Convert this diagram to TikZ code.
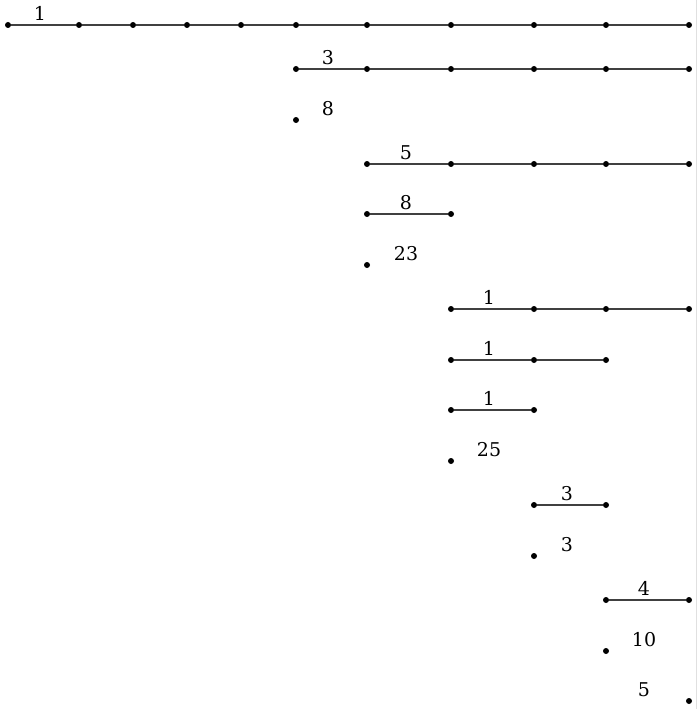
\documentclass[tikz,border=0pt]{standalone}
\usepackage{fontspec}
\setmainfont{DejaVu Serif}
\usetikzlibrary{positioning}
\tikzset{dot/.style={circle,fill=black,inner sep=0pt,minimum size=6pt},
  seg/.style={draw=black!75,line width=1.3pt},
  lbl/.style={font=\fontsize{19}{19}\selectfont,inner sep=0pt}}

\begin{document}
\begin{tikzpicture}[x=1pt,y=-1pt]
	\useasboundingbox (0,0) rectangle (697,709);
	\draw[black!12,line width=1pt] (696,0) -- (696,709);
	% rows: name / y / first column / last column / label / label x
	\foreach \row/\y/\a/\b/\txt/\lx in {1/25/0/10/1/40, 2/69/5/10/3/328, 3/120/5/5/8/328,
	    4/164/6/10/5/406, 5/214/6/7/8/406, 6/265/6/6/23/406,
	    7/309/7/10/1/489, 8/360/7/9/1/489, 9/410/7/8/1/489, 10/461/7/7/25/489,
	    11/505/8/9/3/567, 12/556/8/8/3/567,
	    13/600/9/10/4/644, 14/651/9/9/10/644, 15/701/10/10/5/644}{
	  \foreach \i in {\a,...,\b}{
	    \pgfmathsetmacro\xx{{8,79,133,187,241,296,367,451,534,606,689}[\i]}
	    \node[dot] (p\row-\i) at (\xx,\y) {};
	    \ifnum\i>\a
	      \pgfmathtruncatemacro\prev{\i-1}
	      \draw[seg] (p\row-\prev) -- (p\row-\i);
	    \fi
	  }
	  \node[lbl] (t\row) at (\lx,\y-11.5) {\txt};
	}
\end{tikzpicture}
\end{document}
